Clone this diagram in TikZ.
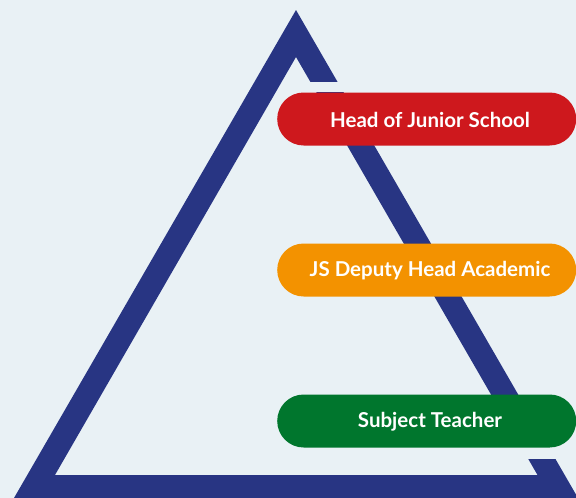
\documentclass[tikz,border=0pt]{standalone}
\usepackage{fontspec}
\setmainfont{Lato}
\definecolor{bgc}{HTML}{E9F1F5}
\definecolor{navy}{HTML}{283583}
\definecolor{pred}{HTML}{CE181D}
\definecolor{porange}{HTML}{F39200}
\definecolor{pgreen}{HTML}{00762D}
\tikzset{
  pill/.style={draw=none, rounded corners=26.5pt, minimum width=299pt, minimum height=53pt, inner sep=0pt, anchor=west},
  pilltext/.style={text=white, font=\fontsize{20.5pt}{24pt}\selectfont\bfseries, inner sep=0pt}
}
\begin{document}
\begin{tikzpicture}[x=1pt,y=-1pt]
\fill[bgc] (0,0) rectangle (576,498);
\useasboundingbox (0,0) rectangle (576,498);
\begin{scope}
\clip (0,0) rectangle (576,498);
\fill[navy,even odd rule] (296,10) -- (14,498) -- (578,498) -- cycle
  (296,57) -- (55,475) -- (537.5,475) -- cycle;
\fill[bgc] (300,82) rectangle (576,92);
\fill[bgc] (300,447) rectangle (576,459);
\node[pill, fill=pred] (head) at (277,119) {};
\node[pill, fill=porange] (deputy) at (277,270) {};
\node[pill, fill=pgreen] (teacher) at (277,421) {};
\end{scope}
\node[pilltext] (headt) at (430,120) {Head of Junior School};
\node[pilltext] (deputyt) at (430,271) {JS Deputy Head Academic};
\node[pilltext] (teachert) at (430,422) {Subject Teacher};
\end{tikzpicture}
\end{document}
